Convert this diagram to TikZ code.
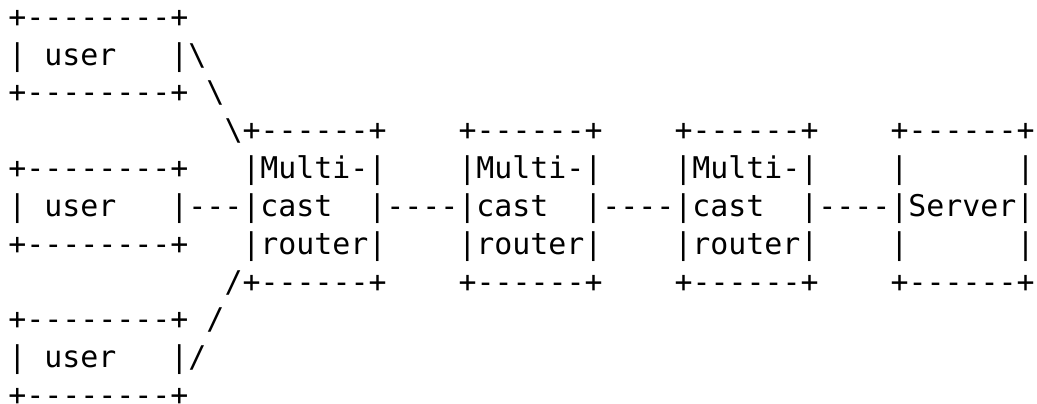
\documentclass[tikz,border=0pt]{standalone}
\usepackage{fontspec}
\setmonofont{DejaVu Sans Mono}
\newlength{\rowpitch}
\setlength{\rowpitch}{37.83pt}
\tikzset{
  asciirow/.style={anchor=base west, inner sep=0pt, outer sep=0pt,
    font=\ttfamily\fontsize{29.9}{37.83}\selectfont, text=black},
}
\newcommand{\bs}{\textbackslash}
\begin{document}
\begin{tikzpicture}[x=1pt,y=-1pt]
  \useasboundingbox (0,0) rectangle (1037,404);
  % three users, three multicast routers in a chain, one server
  \node[asciirow] (r1)  at (8.5,27.2+0*37.83)  {+--------+};
  \node[asciirow] (r2)  at (8.5,27.2+1*37.83)  {|~user~~~|\bs};
  \node[asciirow] (r3)  at (8.5,27.2+2*37.83)  {+--------+~\bs};
  \node[asciirow] (r4)  at (8.5,27.2+3*37.83)  {~~~~~~~~~~~~\bs+------+~~~~+------+~~~~+------+~~~~+------+};
  \node[asciirow] (r5)  at (8.5,27.2+4*37.83)  {+--------+~~~|Multi-|~~~~|Multi-|~~~~|Multi-|~~~~|~~~~~~|};
  \node[asciirow] (r6)  at (8.5,27.2+5*37.83)  {|~user~~~|---|cast~~|----|cast~~|----|cast~~|----|Server|};
  \node[asciirow] (r7)  at (8.5,27.2+6*37.83)  {+--------+~~~|router|~~~~|router|~~~~|router|~~~~|~~~~~~|};
  \node[asciirow] (r8)  at (8.5,27.2+7*37.83)  {~~~~~~~~~~~~/+------+~~~~+------+~~~~+------+~~~~+------+};
  \node[asciirow] (r9)  at (8.5,27.2+8*37.83)  {+--------+~/};
  \node[asciirow] (r10) at (8.5,27.2+9*37.83)  {|~user~~~|/};
  \node[asciirow] (r11) at (8.5,27.2+10*37.83) {+--------+};
\end{tikzpicture}
\end{document}
